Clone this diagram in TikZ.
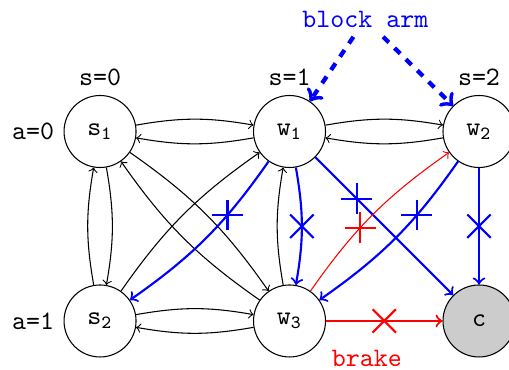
\documentclass[tikz,border=0pt]{standalone}
\usetikzlibrary{positioning,shapes.misc}

\begin{document}
\begin{tikzpicture}[font=\ttfamily,node distance=2.5cm,on grid]
    \tikzstyle{state}=[circle,draw,minimum size=0.95cm]
    \tikzstyle{move}=[->,bend left=10]
    \tikzstyle{blocked}=[->,thick,blue]
    \tikzstyle{crossmark}=[cross out,draw,-,thick,minimum size=8pt,inner sep=0pt]
    \tikzstyle{plusmark}=[crossmark,rotate=45,minimum size=7.4pt]
    \tikzstyle{armarrow}=[->,blue,ultra thick,dashed]

    \useasboundingbox (-1.32,-0.646) rectangle (5.396,4.235);

    %% Draw the states, one row per value of a
    \node [state,label={above:s=0},label={left:a=0}] (s1) at (0,2.5) {s\textsubscript{1}};
    \node [state,right=of s1,label={above:s=1}] (w1) {w\textsubscript{1}};
    \node [state,right=of w1,label={above:s=2}] (w2) {w\textsubscript{2}};
    \node [state,below=of s1,label={left:a=1}] (s2) {s\textsubscript{2}};
    \node [state,right=of s2] (w3) {w\textsubscript{3}};
    \node [state,right=of w3,fill=gray!40] (c) {c};

    %% Draw the moves that are allowed
    \draw [move] (s1) to (w1);
    \draw [move] (w1) to (s1);
    \draw [move] (w1) to (w2);
    \draw [move] (w2) to (w1);
    \draw [move] (s2) to (w3);
    \draw [move] (w3) to (s2);
    \draw [move] (s1) to (s2);
    \draw [move] (s2) to (s1);
    \draw [move] (w3) to (w1);
    \draw [move] (s1) to (w3);
    \draw [move] (w3) to (s1);
    \draw [move] (s2) to (w1);

    %% Draw the moves that are crossed out
    \draw [blocked,bend left=10] (w1) to node [pos=0.33,plusmark] {} (s2);
    \draw [blocked,bend left=10] (w1) to node [crossmark] {} (w3);
    \draw [blocked] (w1) to node [pos=0.3,plusmark] {} (c);
    \draw [blocked,bend left=10] (w2) to node [pos=0.33,plusmark] {} (w3);
    \draw [blocked] (w2) to node [crossmark] {} (c);
    \draw [->,red,bend left=10] (w3) to node [pos=0.4,plusmark] {} (w2);
    \draw [->,red,thick] (w3) to node [crossmark] {}
        node [pos=0.35,below=0.26cm] (brake) {brake} (c);

    %% Draw the block arm above the top row
    \node [blue,xshift=1cm,yshift=1cm] at (w1.north) (arm) {block arm};
    \draw [armarrow] (arm) -- (w1);
    \draw [armarrow] (arm) -- (w2);
\end{tikzpicture}
\end{document}
